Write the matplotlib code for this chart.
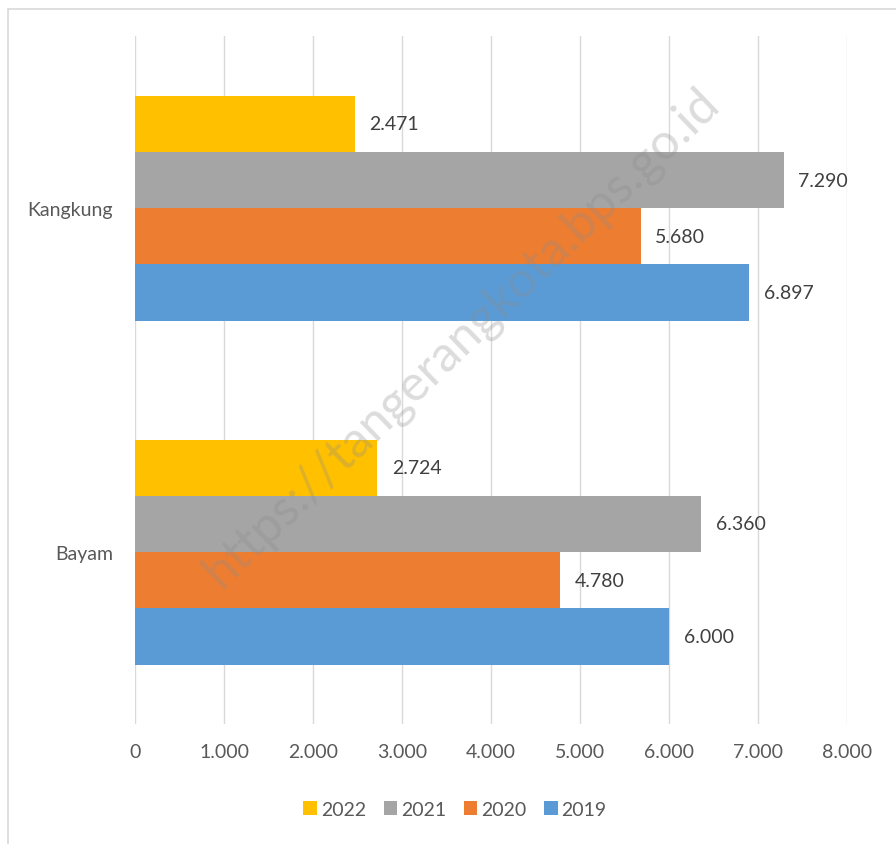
import numpy as np
import matplotlib.pyplot as plt
from matplotlib.patches import Rectangle

plt.rcParams['font.family'] = ['Lato', 'DejaVu Sans']

# data
categories = ['Bayam', 'Kangkung']
years = ['2022', '2021', '2020', '2019']
values = {
    '2022': [2724, 2471],
    '2021': [6360, 7290],
    '2020': [4780, 5680],
    '2019': [6000, 6897],
}
colors = ['#FFC000', '#A5A5A5', '#ED7D31', '#5B9BD5']


def fmt(v):
    return f'{v:,.0f}'.replace(',', '.')


fig = plt.figure(figsize=(8.96, 8.45), dpi=100)
ax = fig.add_axes([0.1507, 0.142, 0.7946, 0.814])

# outer frame like the excel chart area
fig.patches.append(Rectangle((0.009, -0.02), 1.05, 1.008, transform=fig.transFigure,
                             fill=False, edgecolor='#D9D9D9', linewidth=1.2))

y = np.arange(len(categories))
h = 0.1635
for i, (yr, c) in enumerate(zip(years, colors)):
    ypos = y + (1.5 - i) * h
    bars = ax.barh(ypos, values[yr], height=h, color=c, label=yr, zorder=2)
    for b, v in zip(bars, values[yr]):
        ax.text(v + 165, b.get_y() + h / 2, fmt(v), va='center', ha='left',
                fontsize=14, color='#404040', zorder=3)

ax.set_xlim(0, 8000)
ax.set_ylim(-0.5, 1.5)
ax.set_xticks(np.arange(0, 8001, 1000))
ax.set_xticklabels([fmt(v) for v in np.arange(0, 8001, 1000)])
ax.set_yticks(y)
ax.set_yticklabels(categories)
ax.tick_params(axis='y', length=0, pad=16, labelsize=14, labelcolor='#595959')
ax.tick_params(axis='x', length=0, pad=14, labelsize=14, labelcolor='#595959')
ax.grid(axis='x', color='#D9D9D9', linewidth=1, zorder=0)
for s in ax.spines.values():
    s.set_visible(False)

# watermark
fig.text(0.515, 0.6, 'https://tangerangkota.bps.go.id', rotation=44,
         ha='center', va='center', fontsize=36, color='#8C8C8C', alpha=0.3, zorder=10)

handles, labels = ax.get_legend_handles_labels()
fig.legend(handles, labels, loc='center', bbox_to_anchor=(455 / 896, 0.041), ncol=4,
           frameon=False, handlelength=0.7, handleheight=0.7, handletextpad=0.2,
           columnspacing=0.9, fontsize=14, labelcolor='#595959')

fig.savefig('out.png', dpi=100)
